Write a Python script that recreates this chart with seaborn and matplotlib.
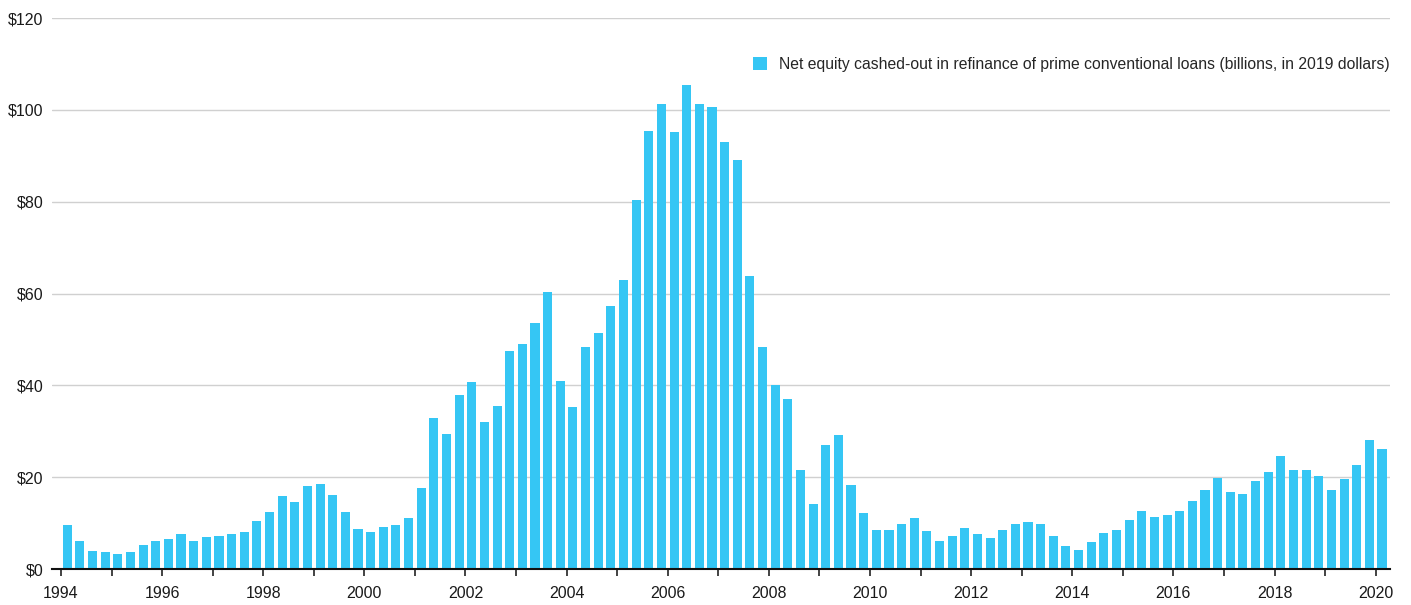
import matplotlib
matplotlib.use("Agg")
import matplotlib.pyplot as plt
import numpy as np
import pandas as pd
import seaborn as sns

# quarterly data, 1994Q1 - 2020Q1
quarters = pd.period_range("1994Q1", "2020Q1", freq="Q")
cash_out = [
    9.6, 6.1, 3.9, 3.7,        # 1994
    3.3, 3.7, 5.2, 6.1,        # 1995
    6.5, 7.6, 6.1, 7.0,        # 1996
    7.2, 7.6, 8.0, 10.4,       # 1997
    12.4, 15.9, 14.6, 18.1,    # 1998
    18.5, 16.1, 12.4, 8.7,     # 1999
    8.1, 9.2, 9.6, 11.1,       # 2000
    17.6, 32.9, 29.4, 37.9,    # 2001
    40.7, 32.0, 35.5, 47.5,    # 2002
    49.0, 53.6, 60.3, 40.9,    # 2003
    35.4, 48.3, 51.4, 57.2,    # 2004
    62.9, 80.3, 95.5, 101.4,   # 2005
    95.1, 105.5, 101.4, 100.6, # 2006
    93.0, 89.0, 63.8, 48.3,    # 2007
    40.0, 37.0, 21.5, 14.1,    # 2008
    27.1, 29.1, 18.2, 12.1,    # 2009
    8.6, 8.6, 9.7, 11.2,       # 2010
    8.2, 6.2, 7.1, 8.9,        # 2011
    7.7, 6.7, 8.6, 9.7,        # 2012
    10.2, 9.7, 7.1, 5.1,       # 2013
    4.2, 5.8, 7.8, 8.6,        # 2014
    10.6, 12.6, 11.3, 11.7,    # 2015
    12.6, 14.8, 17.2, 19.9,    # 2016
    16.8, 16.3, 19.2, 21.2,    # 2017
    24.7, 21.6, 21.6, 20.3,    # 2018
    17.2, 19.6, 22.7, 28.2,    # 2019
    26.2,                      # 2020
]
label = "Net equity cashed-out in refinance of prime conventional loans (billions, in 2019 dollars)"
y_ticks = [0, 20, 40, 60, 80, 100, 120]

# centre of each quarter in decimal years
x_pos = np.array([q.year + (q.quarter - 0.5) / 4 for q in quarters])
df = pd.DataFrame({"x": x_pos, "value": cash_out})

sns.set_style("white")
plt.rcParams["font.family"] = ["Liberation Sans", "DejaVu Sans"]

fig = plt.figure(figsize=(14.11, 6.05), dpi=100)
ax = fig.add_axes([0.0366, 0.0595, 0.9485, 0.9105])

sns.barplot(data=df, x="x", y="value", native_scale=True, width=0.72,
            color="#35C6F4", saturation=1, linewidth=0, label=label, ax=ax)

ax.set_xlim(1993.816, 2020.283)
ax.set_ylim(0, 120)
ax.set_yticks(y_ticks)
ax.set_yticklabels([r"\$%d" % v for v in y_ticks], fontsize=11.5, color="#1a1a1a")
ax.yaxis.grid(True, color="#d0d0d0", linewidth=1)
ax.set_axisbelow(True)
ax.tick_params(axis="y", length=0, pad=6)

years = np.arange(1994, 2021)
ax.set_xticks(years)
ax.set_xticklabels([str(y) if y % 2 == 0 else "" for y in years], fontsize=11.5, color="#1a1a1a")
ax.tick_params(axis="x", direction="out", length=5, width=1.2, color="#222222", pad=7, bottom=True)
ax.set_xlabel("")
ax.set_ylabel("")

for s in ["top", "right", "left"]:
    ax.spines[s].set_visible(False)
ax.spines["bottom"].set_color("#111111")
ax.spines["bottom"].set_linewidth(1.5)

ax.legend(loc="upper right", bbox_to_anchor=(1.0, 0.929), frameon=False,
          fontsize=11.3, handlelength=0.9, handleheight=0.9,
          handletextpad=0.8, borderaxespad=0, borderpad=0)

plt.savefig("out.png", dpi=100)
